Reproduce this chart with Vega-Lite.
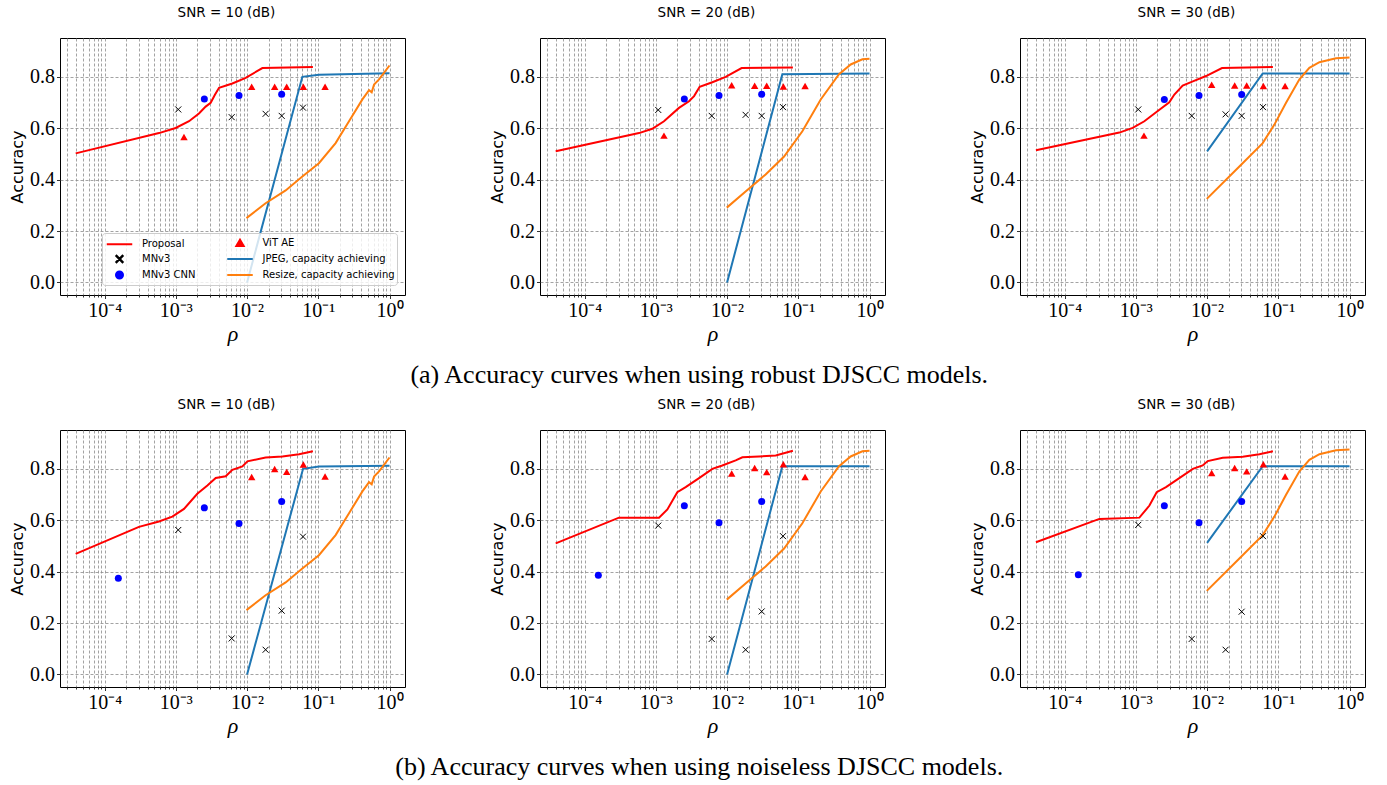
{
"$schema": "https://vega.github.io/schema/vega-lite/v6.json",
"background": "white",
"padding": {"left": 9, "top": 5, "right": 5, "bottom": 2},
"spacing": 9,
"resolve": {"scale": {"color": "independent"}, "legend": {"color": "independent"}},
"datasets": {"d": [
{"p":"a10","s":"Proposal","x":3.92e-5,"y":0.502},{"p":"a10","s":"Proposal","x":5.79e-4,"y":0.581},{"p":"a10","s":"Proposal","x":9.93e-4,"y":0.601},{"p":"a10","s":"Proposal","x":1.53e-3,"y":0.627},{"p":"a10","s":"Proposal","x":2.11e-3,"y":0.657},{"p":"a10","s":"Proposal","x":2.62e-3,"y":0.684},{"p":"a10","s":"Proposal","x":3.08e-3,"y":0.699},{"p":"a10","s":"Proposal","x":3.55e-3,"y":0.731},{"p":"a10","s":"Proposal","x":4.04e-3,"y":0.757},{"p":"a10","s":"Proposal","x":6.21e-3,"y":0.774},{"p":"a10","s":"Proposal","x":9.55e-3,"y":0.796},{"p":"a10","s":"Proposal","x":1.64e-2,"y":0.834},{"p":"a10","s":"Proposal","x":8.4e-2,"y":0.838},
{"p":"a10","s":"JPEG","x":0.01,"y":0},{"p":"a10","s":"JPEG","x":0.0597,"y":0.8},{"p":"a10","s":"JPEG","x":0.102,"y":0.808},{"p":"a10","s":"JPEG","x":1,"y":0.814},
{"p":"a10","s":"Resize","x":9.8e-3,"y":0.25},{"p":"a10","s":"Resize","x":1.82e-2,"y":0.308},{"p":"a10","s":"Resize","x":3.48e-2,"y":0.358},{"p":"a10","s":"Resize","x":5.97e-2,"y":0.412},{"p":"a10","s":"Resize","x":0.102,"y":0.464},{"p":"a10","s":"Resize","x":0.175,"y":0.542},{"p":"a10","s":"Resize","x":0.27,"y":0.627},{"p":"a10","s":"Resize","x":0.416,"y":0.712},{"p":"a10","s":"Resize","x":0.516,"y":0.748},{"p":"a10","s":"Resize","x":0.562,"y":0.74},{"p":"a10","s":"Resize","x":0.607,"y":0.77},{"p":"a10","s":"Resize","x":0.713,"y":0.79},{"p":"a10","s":"Resize","x":1,"y":0.844},
{"p":"a10","s":"ViT AE","x":1.3e-3,"y":0.566},{"p":"a10","s":"ViT AE","x":1.16e-2,"y":0.761},{"p":"a10","s":"ViT AE","x":2.44e-2,"y":0.761},{"p":"a10","s":"ViT AE","x":3.6e-2,"y":0.761},{"p":"a10","s":"ViT AE","x":6.17e-2,"y":0.761},{"p":"a10","s":"ViT AE","x":0.1245,"y":0.761},
{"p":"a10","s":"MNv3","x":1.08e-3,"y":0.673},{"p":"a10","s":"MNv3","x":6.08e-3,"y":0.643},{"p":"a10","s":"MNv3","x":1.82e-2,"y":0.656},{"p":"a10","s":"MNv3","x":3.06e-2,"y":0.648},{"p":"a10","s":"MNv3","x":6.1e-2,"y":0.68},
{"p":"a10","s":"MNv3 CNN","x":2.51e-3,"y":0.714},{"p":"a10","s":"MNv3 CNN","x":7.7e-3,"y":0.727},{"p":"a10","s":"MNv3 CNN","x":3.06e-2,"y":0.732},

{"p":"a20","s":"Proposal","x":3.92e-5,"y":0.51},{"p":"a20","s":"Proposal","x":5.79e-4,"y":0.581},{"p":"a20","s":"Proposal","x":8.91e-4,"y":0.598},{"p":"a20","s":"Proposal","x":1.3e-3,"y":0.627},{"p":"a20","s":"Proposal","x":2.11e-3,"y":0.679},{"p":"a20","s":"Proposal","x":2.92e-3,"y":0.705},{"p":"a20","s":"Proposal","x":3.44e-3,"y":0.725},{"p":"a20","s":"Proposal","x":4.12e-3,"y":0.761},{"p":"a20","s":"Proposal","x":6.21e-3,"y":0.779},{"p":"a20","s":"Proposal","x":9.55e-3,"y":0.8},{"p":"a20","s":"Proposal","x":1.6e-2,"y":0.834},{"p":"a20","s":"Proposal","x":8.4e-2,"y":0.836},
{"p":"a20","s":"JPEG","x":0.01,"y":0},{"p":"a20","s":"JPEG","x":0.0597,"y":0.81},{"p":"a20","s":"JPEG","x":1,"y":0.813},
{"p":"a20","s":"Resize","x":9.9e-3,"y":0.291},{"p":"a20","s":"Resize","x":1.82e-2,"y":0.354},{"p":"a20","s":"Resize","x":3.48e-2,"y":0.42},{"p":"a20","s":"Resize","x":6.31e-2,"y":0.49},{"p":"a20","s":"Resize","x":0.114,"y":0.588},{"p":"a20","s":"Resize","x":0.2065,"y":0.712},{"p":"a20","s":"Resize","x":0.373,"y":0.81},{"p":"a20","s":"Resize","x":0.5445,"y":0.848},{"p":"a20","s":"Resize","x":0.794,"y":0.868},{"p":"a20","s":"Resize","x":1,"y":0.87},
{"p":"a20","s":"ViT AE","x":1.3e-3,"y":0.571},{"p":"a20","s":"ViT AE","x":1.16e-2,"y":0.767},{"p":"a20","s":"ViT AE","x":2.44e-2,"y":0.765},{"p":"a20","s":"ViT AE","x":3.6e-2,"y":0.765},{"p":"a20","s":"ViT AE","x":6.17e-2,"y":0.762},{"p":"a20","s":"ViT AE","x":0.1245,"y":0.764},
{"p":"a20","s":"MNv3","x":1.08e-3,"y":0.671},{"p":"a20","s":"MNv3","x":6.08e-3,"y":0.648},{"p":"a20","s":"MNv3","x":1.82e-2,"y":0.652},{"p":"a20","s":"MNv3","x":3.06e-2,"y":0.648},{"p":"a20","s":"MNv3","x":6.1e-2,"y":0.682},
{"p":"a20","s":"MNv3 CNN","x":2.51e-3,"y":0.714},{"p":"a20","s":"MNv3 CNN","x":7.7e-3,"y":0.727},{"p":"a20","s":"MNv3 CNN","x":3.06e-2,"y":0.732},

{"p":"a30","s":"Proposal","x":3.95e-5,"y":0.514},{"p":"a30","s":"Proposal","x":5.86e-4,"y":0.583},{"p":"a30","s":"Proposal","x":9.02e-4,"y":0.601},{"p":"a30","s":"Proposal","x":1.315e-3,"y":0.627},{"p":"a30","s":"Proposal","x":2.14e-3,"y":0.672},{"p":"a30","s":"Proposal","x":2.95e-3,"y":0.701},{"p":"a30","s":"Proposal","x":3.47e-3,"y":0.731},{"p":"a30","s":"Proposal","x":4.54e-3,"y":0.766},{"p":"a30","s":"Proposal","x":6.31e-3,"y":0.782},{"p":"a30","s":"Proposal","x":9.66e-3,"y":0.803},{"p":"a30","s":"Proposal","x":1.62e-2,"y":0.834},{"p":"a30","s":"Proposal","x":8.4e-2,"y":0.838},
{"p":"a30","s":"JPEG","x":0.01,"y":0.51},{"p":"a30","s":"JPEG","x":0.0604,"y":0.813},{"p":"a30","s":"JPEG","x":1,"y":0.813},
{"p":"a30","s":"Resize","x":9.9e-3,"y":0.325},{"p":"a30","s":"Resize","x":2.84e-2,"y":0.451},{"p":"a30","s":"Resize","x":6.04e-2,"y":0.542},{"p":"a30","s":"Resize","x":8.81e-2,"y":0.614},{"p":"a30","s":"Resize","x":0.1285,"y":0.699},{"p":"a30","s":"Resize","x":0.198,"y":0.79},{"p":"a30","s":"Resize","x":0.273,"y":0.835},{"p":"a30","s":"Resize","x":0.378,"y":0.857},{"p":"a30","s":"Resize","x":0.646,"y":0.872},{"p":"a30","s":"Resize","x":1,"y":0.875},
{"p":"a30","s":"ViT AE","x":1.3e-3,"y":0.571},{"p":"a30","s":"ViT AE","x":1.16e-2,"y":0.769},{"p":"a30","s":"ViT AE","x":2.44e-2,"y":0.766},{"p":"a30","s":"ViT AE","x":3.6e-2,"y":0.766},{"p":"a30","s":"ViT AE","x":6.17e-2,"y":0.764},{"p":"a30","s":"ViT AE","x":0.1245,"y":0.764},
{"p":"a30","s":"MNv3","x":1.08e-3,"y":0.673},{"p":"a30","s":"MNv3","x":6.08e-3,"y":0.648},{"p":"a30","s":"MNv3","x":1.82e-2,"y":0.654},{"p":"a30","s":"MNv3","x":3.06e-2,"y":0.648},{"p":"a30","s":"MNv3","x":6.1e-2,"y":0.682},
{"p":"a30","s":"MNv3 CNN","x":2.51e-3,"y":0.712},{"p":"a30","s":"MNv3 CNN","x":7.7e-3,"y":0.727},{"p":"a30","s":"MNv3 CNN","x":3.06e-2,"y":0.731},

{"p":"b10","s":"Proposal","x":3.92e-5,"y":0.469},{"p":"b10","s":"Proposal","x":3.03e-4,"y":0.574},{"p":"b10","s":"Proposal","x":5.79e-4,"y":0.595},{"p":"b10","s":"Proposal","x":8.91e-4,"y":0.614},{"p":"b10","s":"Proposal","x":1.3e-3,"y":0.644},{"p":"b10","s":"Proposal","x":2.0e-3,"y":0.703},{"p":"b10","s":"Proposal","x":2.77e-3,"y":0.735},{"p":"b10","s":"Proposal","x":3.63e-3,"y":0.764},{"p":"b10","s":"Proposal","x":5.01e-3,"y":0.771},{"p":"b10","s":"Proposal","x":6.21e-3,"y":0.796},{"p":"b10","s":"Proposal","x":8.59e-3,"y":0.809},{"p":"b10","s":"Proposal","x":1.01e-2,"y":0.829},{"p":"b10","s":"Proposal","x":1.82e-2,"y":0.844},{"p":"b10","s":"Proposal","x":3.13e-2,"y":0.848},{"p":"b10","s":"Proposal","x":5.37e-2,"y":0.857},{"p":"b10","s":"Proposal","x":8.4e-2,"y":0.868},
{"p":"b10","s":"JPEG","x":0.01,"y":0},{"p":"b10","s":"JPEG","x":0.0611,"y":0.8},{"p":"b10","s":"JPEG","x":0.102,"y":0.809},{"p":"b10","s":"JPEG","x":1,"y":0.812},
{"p":"b10","s":"Resize","x":9.8e-3,"y":0.25},{"p":"b10","s":"Resize","x":1.82e-2,"y":0.308},{"p":"b10","s":"Resize","x":3.48e-2,"y":0.358},{"p":"b10","s":"Resize","x":5.97e-2,"y":0.412},{"p":"b10","s":"Resize","x":0.102,"y":0.464},{"p":"b10","s":"Resize","x":0.175,"y":0.542},{"p":"b10","s":"Resize","x":0.27,"y":0.627},{"p":"b10","s":"Resize","x":0.416,"y":0.712},{"p":"b10","s":"Resize","x":0.516,"y":0.748},{"p":"b10","s":"Resize","x":0.562,"y":0.74},{"p":"b10","s":"Resize","x":0.607,"y":0.77},{"p":"b10","s":"Resize","x":0.713,"y":0.79},{"p":"b10","s":"Resize","x":1,"y":0.844},
{"p":"b10","s":"ViT AE","x":1.16e-2,"y":0.768},{"p":"b10","s":"ViT AE","x":2.44e-2,"y":0.799},{"p":"b10","s":"ViT AE","x":3.6e-2,"y":0.788},{"p":"b10","s":"ViT AE","x":6.17e-2,"y":0.817},{"p":"b10","s":"ViT AE","x":0.1245,"y":0.77},
{"p":"b10","s":"MNv3","x":1.08e-3,"y":0.562},{"p":"b10","s":"MNv3","x":6.08e-3,"y":0.14},{"p":"b10","s":"MNv3","x":1.82e-2,"y":0.096},{"p":"b10","s":"MNv3","x":3.06e-2,"y":0.248},{"p":"b10","s":"MNv3","x":6.1e-2,"y":0.536},
{"p":"b10","s":"MNv3 CNN","x":1.556e-4,"y":0.374},{"p":"b10","s":"MNv3 CNN","x":2.51e-3,"y":0.648},{"p":"b10","s":"MNv3 CNN","x":7.7e-3,"y":0.587},{"p":"b10","s":"MNv3 CNN","x":3.06e-2,"y":0.673},

{"p":"b20","s":"Proposal","x":3.92e-5,"y":0.51},{"p":"b20","s":"Proposal","x":3.03e-4,"y":0.61},{"p":"b20","s":"Proposal","x":1.107e-3,"y":0.61},{"p":"b20","s":"Proposal","x":1.45e-3,"y":0.642},{"p":"b20","s":"Proposal","x":2.0e-3,"y":0.709},{"p":"b20","s":"Proposal","x":2.62e-3,"y":0.729},{"p":"b20","s":"Proposal","x":4.04e-3,"y":0.764},{"p":"b20","s":"Proposal","x":6.21e-3,"y":0.8},{"p":"b20","s":"Proposal","x":8.57e-3,"y":0.813},{"p":"b20","s":"Proposal","x":1.32e-2,"y":0.833},{"p":"b20","s":"Proposal","x":1.64e-2,"y":0.845},{"p":"b20","s":"Proposal","x":2.81e-2,"y":0.848},{"p":"b20","s":"Proposal","x":4.82e-2,"y":0.852},{"p":"b20","s":"Proposal","x":8.4e-2,"y":0.87},
{"p":"b20","s":"JPEG","x":0.01,"y":0},{"p":"b20","s":"JPEG","x":0.0597,"y":0.81},{"p":"b20","s":"JPEG","x":1,"y":0.81},
{"p":"b20","s":"Resize","x":9.9e-3,"y":0.291},{"p":"b20","s":"Resize","x":1.82e-2,"y":0.354},{"p":"b20","s":"Resize","x":3.48e-2,"y":0.42},{"p":"b20","s":"Resize","x":6.31e-2,"y":0.49},{"p":"b20","s":"Resize","x":0.114,"y":0.588},{"p":"b20","s":"Resize","x":0.2065,"y":0.712},{"p":"b20","s":"Resize","x":0.373,"y":0.81},{"p":"b20","s":"Resize","x":0.5445,"y":0.848},{"p":"b20","s":"Resize","x":0.794,"y":0.868},{"p":"b20","s":"Resize","x":1,"y":0.87},
{"p":"b20","s":"ViT AE","x":1.16e-2,"y":0.782},{"p":"b20","s":"ViT AE","x":2.44e-2,"y":0.803},{"p":"b20","s":"ViT AE","x":3.6e-2,"y":0.787},{"p":"b20","s":"ViT AE","x":6.17e-2,"y":0.818},{"p":"b20","s":"ViT AE","x":0.1245,"y":0.768},
{"p":"b20","s":"MNv3","x":1.08e-3,"y":0.579},{"p":"b20","s":"MNv3","x":6.08e-3,"y":0.138},{"p":"b20","s":"MNv3","x":1.82e-2,"y":0.096},{"p":"b20","s":"MNv3","x":3.06e-2,"y":0.245},{"p":"b20","s":"MNv3","x":6.1e-2,"y":0.538},
{"p":"b20","s":"MNv3 CNN","x":1.556e-4,"y":0.386},{"p":"b20","s":"MNv3 CNN","x":2.51e-3,"y":0.656},{"p":"b20","s":"MNv3 CNN","x":7.7e-3,"y":0.59},{"p":"b20","s":"MNv3 CNN","x":3.06e-2,"y":0.673},

{"p":"b30","s":"Proposal","x":3.95e-5,"y":0.514},{"p":"b30","s":"Proposal","x":3.07e-4,"y":0.605},{"p":"b30","s":"Proposal","x":1.12e-3,"y":0.61},{"p":"b30","s":"Proposal","x":1.55e-3,"y":0.657},{"p":"b30","s":"Proposal","x":1.96e-3,"y":0.709},{"p":"b30","s":"Proposal","x":2.65e-3,"y":0.729},{"p":"b30","s":"Proposal","x":4.07e-3,"y":0.764},{"p":"b30","s":"Proposal","x":6.31e-3,"y":0.8},{"p":"b30","s":"Proposal","x":8.67e-3,"y":0.813},{"p":"b30","s":"Proposal","x":1.02e-2,"y":0.83},{"p":"b30","s":"Proposal","x":1.66e-2,"y":0.843},{"p":"b30","s":"Proposal","x":3.16e-2,"y":0.847},{"p":"b30","s":"Proposal","x":5.42e-2,"y":0.857},{"p":"b30","s":"Proposal","x":8.4e-2,"y":0.868},
{"p":"b30","s":"JPEG","x":0.01,"y":0.512},{"p":"b30","s":"JPEG","x":0.0604,"y":0.81},{"p":"b30","s":"JPEG","x":1,"y":0.81},
{"p":"b30","s":"Resize","x":9.9e-3,"y":0.325},{"p":"b30","s":"Resize","x":2.84e-2,"y":0.451},{"p":"b30","s":"Resize","x":6.04e-2,"y":0.542},{"p":"b30","s":"Resize","x":8.81e-2,"y":0.614},{"p":"b30","s":"Resize","x":0.1285,"y":0.699},{"p":"b30","s":"Resize","x":0.198,"y":0.79},{"p":"b30","s":"Resize","x":0.273,"y":0.835},{"p":"b30","s":"Resize","x":0.378,"y":0.857},{"p":"b30","s":"Resize","x":0.646,"y":0.872},{"p":"b30","s":"Resize","x":1,"y":0.875},
{"p":"b30","s":"ViT AE","x":1.16e-2,"y":0.784},{"p":"b30","s":"ViT AE","x":2.44e-2,"y":0.803},{"p":"b30","s":"ViT AE","x":3.6e-2,"y":0.79},{"p":"b30","s":"ViT AE","x":6.17e-2,"y":0.818},{"p":"b30","s":"ViT AE","x":0.1245,"y":0.77},
{"p":"b30","s":"MNv3","x":1.08e-3,"y":0.582},{"p":"b30","s":"MNv3","x":6.08e-3,"y":0.138},{"p":"b30","s":"MNv3","x":1.82e-2,"y":0.096},{"p":"b30","s":"MNv3","x":3.06e-2,"y":0.244},{"p":"b30","s":"MNv3","x":6.1e-2,"y":0.538},
{"p":"b30","s":"MNv3 CNN","x":1.556e-4,"y":0.388},{"p":"b30","s":"MNv3 CNN","x":2.51e-3,"y":0.656},{"p":"b30","s":"MNv3 CNN","x":7.7e-3,"y":0.59},{"p":"b30","s":"MNv3 CNN","x":3.06e-2,"y":0.673}
]},
"vconcat": [
{
"title": {"text": "(a) Accuracy curves when using robust DJSCC models.", "orient": "bottom", "anchor": "middle", "font": "Liberation Serif", "fontSize": 26, "offset": 17, "dx": 12},
"bounds": "flush", "spacing": 135,
"resolve": {"scale": {"color": "independent"}, "legend": {"color": "independent"}},
"hconcat": [
{"width": 345, "height": 257, "title": {"text": "SNR = 10 (dB)", "dx": -6}, "data": {"name": "d"}, "transform": [{"filter": "datum.p === 'a10'"}],
"encoding": {
"x": {"field": "x", "type": "quantitative", "title": "ρ", "scale": {"type": "log", "domain": [2.36e-5, 1.65], "nice": false}, "axis": {"values": [3e-5,4e-5,5e-5,6e-5,7e-5,8e-5,9e-5,1e-4,2e-4,3e-4,4e-4,5e-4,6e-4,7e-4,8e-4,9e-4,1e-3,2e-3,3e-3,4e-3,5e-3,6e-3,7e-3,8e-3,9e-3,0.01,0.02,0.03,0.04,0.05,0.06,0.07,0.08,0.09,0.1,0.2,0.3,0.4,0.5,0.6,0.7,0.8,0.9,1], "labelExpr": "datum.value === 0.0001 ? '10⁻⁴' : datum.value === 0.001 ? '10⁻³' : datum.value === 0.01 ? '10⁻²' : datum.value === 0.1 ? '10⁻¹' : datum.value === 1 ? '10⁰' : ''", "tickSize": {"condition": {"test": "datum.value === 0.0001 || datum.value === 0.001 || datum.value === 0.01 || datum.value === 0.1 || datum.value === 1", "value": 3.5}, "value": 2}}},
"y": {"field": "y", "type": "quantitative", "title": "Accuracy", "scale": {"domain": [-0.049, 0.951], "nice": false, "zero": false}, "axis": {"values": [0, 0.2, 0.4, 0.6, 0.8], "format": ".1f"}},
"color": {"field": "s", "type": "nominal", "scale": {"domain": ["Proposal","MNv3","MNv3 CNN","ViT AE","JPEG","Resize"], "range": ["#ff0000","#000000","#0000ff","#ff0000","#1f77b4","#ff7f0e"]},
 "legend": {"orient": "none", "legendX": 42, "legendY": 195, "title": null, "columns": 2, "columnPadding": 26.5, "rowPadding": 0, "padding": 1.5, "symbolSize": 225, "symbolStrokeWidth": 2, "symbolOffset": 7.5, "labelOffset": 21.5, "labelFont": "DejaVu Sans", "labelFontSize": 10, "labelColor": "#000000", "labelLimit": 300, "labelAlign": "left", "fillColor": "rgba(255,255,255,0.8)", "strokeColor": "#cccccc", "cornerRadius": 3,
  "labelExpr": "datum.label === 'JPEG' ? 'JPEG, capacity achieving' : datum.label === 'Resize' ? 'Resize, capacity achieving' : datum.label",
  "encode": {
   "symbols": {"update": {
    "x": {"value": 16},
    "shape": {"signal": "datum.value === 'MNv3' ? 'M-1.7,0L-1.7,0M-0.43,-0.39L0.39,0.43L0.43,0.39L-0.39,-0.43ZM-0.39,0.43L0.43,-0.39L0.39,-0.43L-0.43,0.39Z' : datum.value === 'MNv3 CNN' ? 'M-1.7,0L-1.7,0M0.467,0A0.467,0.467,0,1,1,-0.467,0A0.467,0.467,0,1,1,0.467,0Z' : datum.value === 'ViT AE' ? 'M-1.7,0L-1.7,0M0,-0.5L0.49,0.36L-0.49,0.36Z' : 'M-1.7,0L1.7,0'"},
    "fill": {"signal": "datum.value === 'MNv3' ? '#000000' : datum.value === 'MNv3 CNN' ? '#0000ff' : datum.value === 'ViT AE' ? '#ff0000' : 'transparent'"},
    "stroke": {"signal": "datum.value === 'Proposal' ? '#ff0000' : datum.value === 'JPEG' ? '#1f77b4' : datum.value === 'Resize' ? '#ff7f0e' : 'transparent'"},
    "opacity": {"value": 1}, "fillOpacity": {"value": 1}, "strokeOpacity": {"value": 1}}},
   "labels": {"update": {"x": {"value": 38.5}, "align": {"value": "left"}}}}}}
},
"layer": [
{"mark": {"type": "line", "strokeWidth": 2}, "transform": [{"filter": "datum.s === 'Proposal' || datum.s === 'JPEG' || datum.s === 'Resize'"}]},
{"mark": {"type": "point", "shape": "M-1,-1L1,1M-1,1L1,-1", "filled": false, "size": 36, "strokeWidth": 1, "opacity": 1}, "transform": [{"filter": "datum.s === 'MNv3'"}]},
{"mark": {"type": "point", "shape": "circle", "filled": true, "size": 49, "opacity": 1}, "transform": [{"filter": "datum.s === 'MNv3 CNN'"}]},
{"mark": {"type": "point", "shape": "triangle-up", "filled": true, "size": 55, "opacity": 1}, "transform": [{"filter": "datum.s === 'ViT AE'"}]}
]},
{"width": 345, "height": 257, "title": {"text": "SNR = 20 (dB)", "dx": -6}, "data": {"name": "d"}, "transform": [{"filter": "datum.p === 'a20'"}],
"encoding": {
"x": {"field": "x", "type": "quantitative", "title": "ρ", "scale": {"type": "log", "domain": [2.36e-5, 1.65], "nice": false}, "axis": {"values": [3e-5,4e-5,5e-5,6e-5,7e-5,8e-5,9e-5,1e-4,2e-4,3e-4,4e-4,5e-4,6e-4,7e-4,8e-4,9e-4,1e-3,2e-3,3e-3,4e-3,5e-3,6e-3,7e-3,8e-3,9e-3,0.01,0.02,0.03,0.04,0.05,0.06,0.07,0.08,0.09,0.1,0.2,0.3,0.4,0.5,0.6,0.7,0.8,0.9,1], "labelExpr": "datum.value === 0.0001 ? '10⁻⁴' : datum.value === 0.001 ? '10⁻³' : datum.value === 0.01 ? '10⁻²' : datum.value === 0.1 ? '10⁻¹' : datum.value === 1 ? '10⁰' : ''", "tickSize": {"condition": {"test": "datum.value === 0.0001 || datum.value === 0.001 || datum.value === 0.01 || datum.value === 0.1 || datum.value === 1", "value": 3.5}, "value": 2}}},
"y": {"field": "y", "type": "quantitative", "title": "Accuracy", "scale": {"domain": [-0.049, 0.951], "nice": false, "zero": false}, "axis": {"values": [0, 0.2, 0.4, 0.6, 0.8], "format": ".1f"}},
"color": {"field": "s", "type": "nominal", "scale": {"domain": ["Proposal","MNv3","MNv3 CNN","ViT AE","JPEG","Resize"], "range": ["#ff0000","#000000","#0000ff","#ff0000","#1f77b4","#ff7f0e"]}, "legend": null}
},
"layer": [
{"mark": {"type": "line", "strokeWidth": 2}, "transform": [{"filter": "datum.s === 'Proposal' || datum.s === 'JPEG' || datum.s === 'Resize'"}]},
{"mark": {"type": "point", "shape": "M-1,-1L1,1M-1,1L1,-1", "filled": false, "size": 36, "strokeWidth": 1, "opacity": 1}, "transform": [{"filter": "datum.s === 'MNv3'"}]},
{"mark": {"type": "point", "shape": "circle", "filled": true, "size": 49, "opacity": 1}, "transform": [{"filter": "datum.s === 'MNv3 CNN'"}]},
{"mark": {"type": "point", "shape": "triangle-up", "filled": true, "size": 55, "opacity": 1}, "transform": [{"filter": "datum.s === 'ViT AE'"}]}
]},
{"width": 345, "height": 257, "title": {"text": "SNR = 30 (dB)", "dx": -6}, "data": {"name": "d"}, "transform": [{"filter": "datum.p === 'a30'"}],
"encoding": {
"x": {"field": "x", "type": "quantitative", "title": "ρ", "scale": {"type": "log", "domain": [2.36e-5, 1.65], "nice": false}, "axis": {"values": [3e-5,4e-5,5e-5,6e-5,7e-5,8e-5,9e-5,1e-4,2e-4,3e-4,4e-4,5e-4,6e-4,7e-4,8e-4,9e-4,1e-3,2e-3,3e-3,4e-3,5e-3,6e-3,7e-3,8e-3,9e-3,0.01,0.02,0.03,0.04,0.05,0.06,0.07,0.08,0.09,0.1,0.2,0.3,0.4,0.5,0.6,0.7,0.8,0.9,1], "labelExpr": "datum.value === 0.0001 ? '10⁻⁴' : datum.value === 0.001 ? '10⁻³' : datum.value === 0.01 ? '10⁻²' : datum.value === 0.1 ? '10⁻¹' : datum.value === 1 ? '10⁰' : ''", "tickSize": {"condition": {"test": "datum.value === 0.0001 || datum.value === 0.001 || datum.value === 0.01 || datum.value === 0.1 || datum.value === 1", "value": 3.5}, "value": 2}}},
"y": {"field": "y", "type": "quantitative", "title": "Accuracy", "scale": {"domain": [-0.049, 0.951], "nice": false, "zero": false}, "axis": {"values": [0, 0.2, 0.4, 0.6, 0.8], "format": ".1f"}},
"color": {"field": "s", "type": "nominal", "scale": {"domain": ["Proposal","MNv3","MNv3 CNN","ViT AE","JPEG","Resize"], "range": ["#ff0000","#000000","#0000ff","#ff0000","#1f77b4","#ff7f0e"]}, "legend": null}
},
"layer": [
{"mark": {"type": "line", "strokeWidth": 2}, "transform": [{"filter": "datum.s === 'Proposal' || datum.s === 'JPEG' || datum.s === 'Resize'"}]},
{"mark": {"type": "point", "shape": "M-1,-1L1,1M-1,1L1,-1", "filled": false, "size": 36, "strokeWidth": 1, "opacity": 1}, "transform": [{"filter": "datum.s === 'MNv3'"}]},
{"mark": {"type": "point", "shape": "circle", "filled": true, "size": 49, "opacity": 1}, "transform": [{"filter": "datum.s === 'MNv3 CNN'"}]},
{"mark": {"type": "point", "shape": "triangle-up", "filled": true, "size": 55, "opacity": 1}, "transform": [{"filter": "datum.s === 'ViT AE'"}]}
]}
]},
{
"title": {"text": "(b) Accuracy curves when using noiseless DJSCC models.", "orient": "bottom", "anchor": "middle", "font": "Liberation Serif", "fontSize": 26, "offset": 17, "dx": 12},
"bounds": "flush", "spacing": 135,
"resolve": {"scale": {"color": "independent"}, "legend": {"color": "independent"}},
"hconcat": [
{"width": 345, "height": 257, "title": {"text": "SNR = 10 (dB)", "dx": -6}, "data": {"name": "d"}, "transform": [{"filter": "datum.p === 'b10'"}],
"encoding": {
"x": {"field": "x", "type": "quantitative", "title": "ρ", "scale": {"type": "log", "domain": [2.36e-5, 1.65], "nice": false}, "axis": {"values": [3e-5,4e-5,5e-5,6e-5,7e-5,8e-5,9e-5,1e-4,2e-4,3e-4,4e-4,5e-4,6e-4,7e-4,8e-4,9e-4,1e-3,2e-3,3e-3,4e-3,5e-3,6e-3,7e-3,8e-3,9e-3,0.01,0.02,0.03,0.04,0.05,0.06,0.07,0.08,0.09,0.1,0.2,0.3,0.4,0.5,0.6,0.7,0.8,0.9,1], "labelExpr": "datum.value === 0.0001 ? '10⁻⁴' : datum.value === 0.001 ? '10⁻³' : datum.value === 0.01 ? '10⁻²' : datum.value === 0.1 ? '10⁻¹' : datum.value === 1 ? '10⁰' : ''", "tickSize": {"condition": {"test": "datum.value === 0.0001 || datum.value === 0.001 || datum.value === 0.01 || datum.value === 0.1 || datum.value === 1", "value": 3.5}, "value": 2}}},
"y": {"field": "y", "type": "quantitative", "title": "Accuracy", "scale": {"domain": [-0.049, 0.951], "nice": false, "zero": false}, "axis": {"values": [0, 0.2, 0.4, 0.6, 0.8], "format": ".1f"}},
"color": {"field": "s", "type": "nominal", "scale": {"domain": ["Proposal","MNv3","MNv3 CNN","ViT AE","JPEG","Resize"], "range": ["#ff0000","#000000","#0000ff","#ff0000","#1f77b4","#ff7f0e"]}, "legend": null}
},
"layer": [
{"mark": {"type": "line", "strokeWidth": 2}, "transform": [{"filter": "datum.s === 'Proposal' || datum.s === 'JPEG' || datum.s === 'Resize'"}]},
{"mark": {"type": "point", "shape": "M-1,-1L1,1M-1,1L1,-1", "filled": false, "size": 36, "strokeWidth": 1, "opacity": 1}, "transform": [{"filter": "datum.s === 'MNv3'"}]},
{"mark": {"type": "point", "shape": "circle", "filled": true, "size": 49, "opacity": 1}, "transform": [{"filter": "datum.s === 'MNv3 CNN'"}]},
{"mark": {"type": "point", "shape": "triangle-up", "filled": true, "size": 55, "opacity": 1}, "transform": [{"filter": "datum.s === 'ViT AE'"}]}
]},
{"width": 345, "height": 257, "title": {"text": "SNR = 20 (dB)", "dx": -6}, "data": {"name": "d"}, "transform": [{"filter": "datum.p === 'b20'"}],
"encoding": {
"x": {"field": "x", "type": "quantitative", "title": "ρ", "scale": {"type": "log", "domain": [2.36e-5, 1.65], "nice": false}, "axis": {"values": [3e-5,4e-5,5e-5,6e-5,7e-5,8e-5,9e-5,1e-4,2e-4,3e-4,4e-4,5e-4,6e-4,7e-4,8e-4,9e-4,1e-3,2e-3,3e-3,4e-3,5e-3,6e-3,7e-3,8e-3,9e-3,0.01,0.02,0.03,0.04,0.05,0.06,0.07,0.08,0.09,0.1,0.2,0.3,0.4,0.5,0.6,0.7,0.8,0.9,1], "labelExpr": "datum.value === 0.0001 ? '10⁻⁴' : datum.value === 0.001 ? '10⁻³' : datum.value === 0.01 ? '10⁻²' : datum.value === 0.1 ? '10⁻¹' : datum.value === 1 ? '10⁰' : ''", "tickSize": {"condition": {"test": "datum.value === 0.0001 || datum.value === 0.001 || datum.value === 0.01 || datum.value === 0.1 || datum.value === 1", "value": 3.5}, "value": 2}}},
"y": {"field": "y", "type": "quantitative", "title": "Accuracy", "scale": {"domain": [-0.049, 0.951], "nice": false, "zero": false}, "axis": {"values": [0, 0.2, 0.4, 0.6, 0.8], "format": ".1f"}},
"color": {"field": "s", "type": "nominal", "scale": {"domain": ["Proposal","MNv3","MNv3 CNN","ViT AE","JPEG","Resize"], "range": ["#ff0000","#000000","#0000ff","#ff0000","#1f77b4","#ff7f0e"]}, "legend": null}
},
"layer": [
{"mark": {"type": "line", "strokeWidth": 2}, "transform": [{"filter": "datum.s === 'Proposal' || datum.s === 'JPEG' || datum.s === 'Resize'"}]},
{"mark": {"type": "point", "shape": "M-1,-1L1,1M-1,1L1,-1", "filled": false, "size": 36, "strokeWidth": 1, "opacity": 1}, "transform": [{"filter": "datum.s === 'MNv3'"}]},
{"mark": {"type": "point", "shape": "circle", "filled": true, "size": 49, "opacity": 1}, "transform": [{"filter": "datum.s === 'MNv3 CNN'"}]},
{"mark": {"type": "point", "shape": "triangle-up", "filled": true, "size": 55, "opacity": 1}, "transform": [{"filter": "datum.s === 'ViT AE'"}]}
]},
{"width": 345, "height": 257, "title": {"text": "SNR = 30 (dB)", "dx": -6}, "data": {"name": "d"}, "transform": [{"filter": "datum.p === 'b30'"}],
"encoding": {
"x": {"field": "x", "type": "quantitative", "title": "ρ", "scale": {"type": "log", "domain": [2.36e-5, 1.65], "nice": false}, "axis": {"values": [3e-5,4e-5,5e-5,6e-5,7e-5,8e-5,9e-5,1e-4,2e-4,3e-4,4e-4,5e-4,6e-4,7e-4,8e-4,9e-4,1e-3,2e-3,3e-3,4e-3,5e-3,6e-3,7e-3,8e-3,9e-3,0.01,0.02,0.03,0.04,0.05,0.06,0.07,0.08,0.09,0.1,0.2,0.3,0.4,0.5,0.6,0.7,0.8,0.9,1], "labelExpr": "datum.value === 0.0001 ? '10⁻⁴' : datum.value === 0.001 ? '10⁻³' : datum.value === 0.01 ? '10⁻²' : datum.value === 0.1 ? '10⁻¹' : datum.value === 1 ? '10⁰' : ''", "tickSize": {"condition": {"test": "datum.value === 0.0001 || datum.value === 0.001 || datum.value === 0.01 || datum.value === 0.1 || datum.value === 1", "value": 3.5}, "value": 2}}},
"y": {"field": "y", "type": "quantitative", "title": "Accuracy", "scale": {"domain": [-0.049, 0.951], "nice": false, "zero": false}, "axis": {"values": [0, 0.2, 0.4, 0.6, 0.8], "format": ".1f"}},
"color": {"field": "s", "type": "nominal", "scale": {"domain": ["Proposal","MNv3","MNv3 CNN","ViT AE","JPEG","Resize"], "range": ["#ff0000","#000000","#0000ff","#ff0000","#1f77b4","#ff7f0e"]}, "legend": null}
},
"layer": [
{"mark": {"type": "line", "strokeWidth": 2}, "transform": [{"filter": "datum.s === 'Proposal' || datum.s === 'JPEG' || datum.s === 'Resize'"}]},
{"mark": {"type": "point", "shape": "M-1,-1L1,1M-1,1L1,-1", "filled": false, "size": 36, "strokeWidth": 1, "opacity": 1}, "transform": [{"filter": "datum.s === 'MNv3'"}]},
{"mark": {"type": "point", "shape": "circle", "filled": true, "size": 49, "opacity": 1}, "transform": [{"filter": "datum.s === 'MNv3 CNN'"}]},
{"mark": {"type": "point", "shape": "triangle-up", "filled": true, "size": 55, "opacity": 1}, "transform": [{"filter": "datum.s === 'ViT AE'"}]}
]}
]}
],
"config": {
"font": "DejaVu Sans",
"view": {"stroke": "#000000", "strokeWidth": 1},
"axis": {"grid": true, "gridColor": "#8c8c8c", "gridDash": [3, 2], "gridWidth": 0.8, "domain": false, "ticks": true, "tickColor": "#000000", "tickWidth": 0.8, "labelFont": "Liberation Serif", "labelFontSize": 20, "labelColor": "#000000", "titleColor": "#000000", "titleFontWeight": "normal", "labelOverlap": false, "labelFlush": false},
"axisX": {"titleFont": "Liberation Serif", "titleFontStyle": "italic", "titleFontSize": 22, "titlePadding": 3, "labelPadding": 2},
"axisY": {"titleFont": "DejaVu Sans", "titleFontSize": 16, "titlePadding": 4, "labelPadding": 2, "tickSize": 3.5},
"title": {"font": "DejaVu Sans", "fontSize": 13.5, "fontWeight": "normal", "color": "#000000", "offset": 19}
}
}
